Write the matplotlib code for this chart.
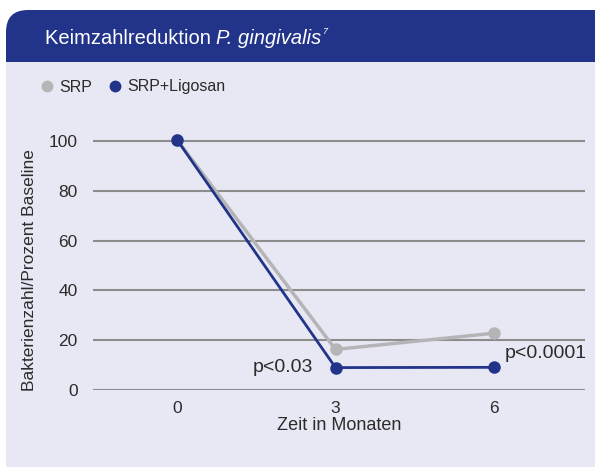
import matplotlib
matplotlib.use("Agg")
import matplotlib.pyplot as plt
from matplotlib.patches import FancyBboxPatch, Rectangle
from matplotlib.lines import Line2D

# data
months = [0, 3, 6]
srp = [100.5, 16.3, 22.8]
srp_ligosan = [100.5, 9.0, 9.1]
yticks = [0, 20, 40, 60, 80, 100]

navy = "#22348a"
grey = "#b5b5b8"
bg = "#e8e8f4"
txt = "#2b2b2b"

W, H = 595, 467
fig = plt.figure(figsize=(W / 100, H / 100), dpi=100)
fig.patch.set_facecolor("white")

# panel: rounded header + light body (pixel coords, origin bottom-left)
fig.patches.append(FancyBboxPatch((6, -40), 640, H - 10 + 40, boxstyle="round,pad=0,rounding_size=22",
                                  transform=None, facecolor=navy, edgecolor="none", zorder=-10))
fig.patches.append(Rectangle((6, -40), 640, H - 62 + 40, transform=None,
                             facecolor=bg, edgecolor="none", zorder=-9))

body_font = ['Liberation Sans', 'DejaVu Sans']
plt.rcParams['font.family'] = body_font

# title in three pieces: normal, italic, superscript
r = fig.canvas.get_renderer()
t1 = fig.text(45 / W, 1 - 38 / H, "Keimzahlreduktion ", color="white", fontsize=14.5,
              va="center", ha="left")
x = t1.get_window_extent(r).x1
t2 = fig.text(x / W, 1 - 38 / H, "P. gingivalis", color="white", fontsize=14.5, style="italic",
              va="center", ha="left")
x = t2.get_window_extent(r).x1
fig.text((x + 0.5) / W, 1 - 32 / H, "7", color="white", fontsize=6.5, style="italic",
         va="center", ha="left")

# axes placement in pixels
left, right, top, bottom = 93, 585, 120, 390
ax = fig.add_axes([left / W, 1 - bottom / H, (right - left) / W, (bottom - top) / H])
ax.set_facecolor("none")
px_per_month = (494 - 177) / 6
ax.set_xlim((left - 177) / px_per_month, (right - 177) / px_per_month)
ax.set_ylim(0, (bottom - top) / 2.49)
for s in ax.spines.values():
    s.set_visible(False)
ax.set_yticks(yticks)
ax.set_xticks(months)
ax.tick_params(length=0, labelsize=12.5, labelcolor=txt)
ax.tick_params(axis="y", pad=11)
ax.tick_params(axis="x", pad=8)
ax.grid(axis="y", color="#8c8c8c", lw=1.5)
ax.grid(axis="x", visible=False)
ax.set_axisbelow(True)
ax.set_xlabel("Zeit in Monaten", fontsize=13, color=txt, labelpad=1)

ax.plot(months, srp, color=grey, lw=2.5, marker="o", ms=8, clip_on=False, zorder=3)
ax.plot(months, srp_ligosan, color=navy, lw=2, marker="o", ms=8, clip_on=False, zorder=4)

ax.annotate("p<0.03", (months[1], srp_ligosan[1]), xytext=(-16, 0), textcoords="offset points",
            ha="right", va="center", fontsize=14, color=txt)
ax.annotate("p<0.0001", (months[2], srp_ligosan[2]), xytext=(8, 10), textcoords="offset points",
            ha="left", va="center", fontsize=14, color=txt)

fig.text(30 / W, 1 - 270 / H, "Bakterienzahl/Prozent Baseline", rotation=90, ha="center", va="center",
         fontsize=12.5, color=txt)

handles = [Line2D([], [], ls="none", marker="o", ms=7.5, color=grey),
           Line2D([], [], ls="none", marker="o", ms=7.5, color=navy)]
leg = fig.legend(handles, ["SRP", "SRP+Ligosan"], ncol=2, frameon=False, loc="center left",
                 bbox_to_anchor=(42 / W, 1 - 87 / H), borderpad=0, borderaxespad=0,
                 handlelength=0.6, handletextpad=0.5, columnspacing=1.1, prop={"size": 11.5})
for t in leg.get_texts():
    t.set_color(txt)

fig.savefig("out.png", dpi=100)
